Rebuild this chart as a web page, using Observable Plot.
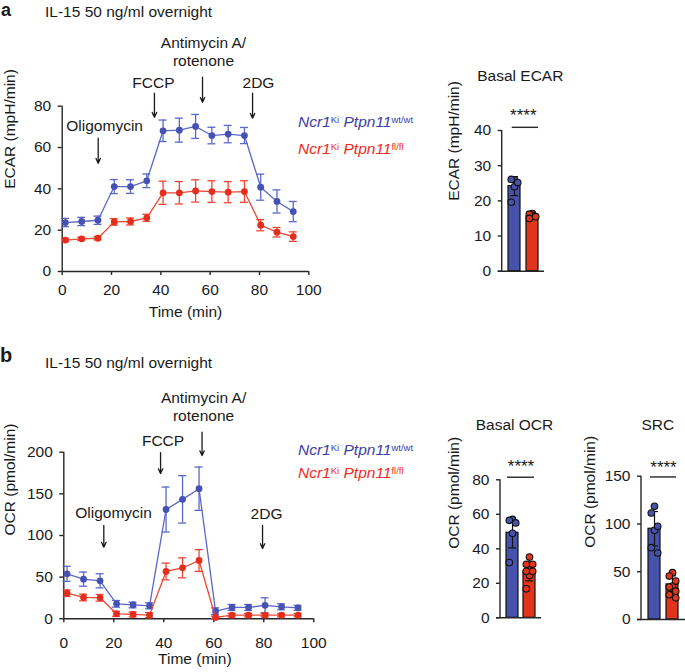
<!DOCTYPE html>
<html><head><meta charset="utf-8">
<script src="https://cdn.jsdelivr.net/npm/d3@7"></script>
<script src="https://cdn.jsdelivr.net/npm/@observablehq/plot@0.6"></script>
<style>
body{margin:0;background:#fff;}
#fig{position:relative;width:685px;height:672px;overflow:hidden;font-family:"Liberation Sans",Arial,Helvetica,sans-serif;color:#1a1a1a;}
#fig .t{position:absolute;line-height:1;white-space:nowrap;font-size:15.5px;}
#fig .sup{font-size:9.5px;position:relative;top:-4px;font-style:normal;}
</style></head><body><div id="fig"></div>
<script>
// ---------- data ----------
const times = [1.3, 7.9, 14.5, 21.1, 27.7, 34.3, 40.9, 47.5, 54.1, 60.7, 67.3, 73.9, 80.5, 87.1, 93.7];
const ecarWt    = [23.7, 24.2, 24.8, 41.1, 41.1, 43.9, 68.1, 68.4, 70.2, 65.8, 66.5, 65.8, 40.8, 33.9, 29.0];
const ecarWtErr = [2.0, 2.0, 2.0, 3.4, 3.3, 3.3, 5.2, 5.8, 5.8, 4.0, 4.2, 3.9, 6.3, 5.6, 4.9];
const ecarFl    = [15.2, 15.8, 16.1, 24.0, 24.2, 26.0, 38.1, 38.1, 39.0, 38.7, 38.4, 38.7, 22.4, 19.0, 16.9];
const ecarFlErr = [0.8, 0.8, 0.8, 1.6, 1.7, 1.7, 5.6, 5.4, 5.4, 5.2, 5.1, 5.2, 2.7, 2.3, 2.3];
const ocrWt     = [54.0, 47.6, 45.6, 18.0, 16.6, 15.6, 131.2, 143.4, 156.2, 9.2, 13.6, 13.6, 16.2, 14.4, 13.2];
const ocrWtErr  = [9, 8.5, 8.5, 4, 3.4, 3.6, 27, 28.5, 26, 4, 3.6, 3.6, 9, 3.6, 3];
const ocrFl     = [30.8, 25.6, 25.2, 6.0, 5.2, 4.4, 56.8, 61.2, 70.0, 1.6, 4.4, 4.4, 4.4, 4.4, 4.4];
const ocrFlErr  = [4, 4, 4, 3, 3, 3, 10, 12, 13, 1.5, 2, 2, 2, 2, 2];

const xTicks = [0, 20, 40, 60, 80, 100];
const ecarTicks = [0, 20, 40, 60, 80];
const ocrTicks = [0, 50, 100, 150, 200];

const injections = ["Oligomycin", "FCCP", "Antimycin A/\nrotenone", "2DG"];
const ecarLabelT = [17.2, 37.0, 57.3, 79.6];
const ecarLabelV = [70.8, 91.6, 106.7, 91.6];
const ecarArrowT = [14.6, 37.4, 56.9, 77.2];
const ecarArrowTop = [64.5, 86.3, 94.1, 86.3];
const ecarArrowTip = [52.4, 74.7, 81.9, 74.2];
const ocrLabelT = [19.9, 39.7, 55.9, 81.1];
const ocrLabelV = [128, 214, 255.4, 126.7];
const ocrArrowT = [16.0, 38.7, 55.3, 79.5];
const ocrArrowTop = [112, 199.6, 224, 112];
const ocrArrowTip = [86, 174.4, 196, 84.4];

const genotypes = ["wt/wt", "fl/fl"];
const basalEcarWt = [26.0, 26.1, 25.2, 24.0, 19.6];
const basalEcarFl = [16.4, 16.2, 15.5, 15.8, 15.0];
const basalEcarMean = [24.2, 15.5];
const basalEcarSd = [2.7, 0.6];
const basalEcarTicks = [0, 10, 20, 30, 40];

const basalOcrWt = [57, 56.5, 55, 49, 32];
const basalOcrFl = [35.2, 31, 31, 27.8, 27, 27, 24.5, 16.8];
const basalOcrMean = [49.3, 26.9];
const basalOcrSd = [8.8, 5.5];
const basalOcrTicks = [0, 20, 40, 60, 80];

const srcWt = [118.5, 111.5, 97.6, 93.4, 75.2, 69.6];
const srcFl = [49, 45.5, 40.2, 35, 33.9, 29.7, 26.2, 25.9, 22.7];
const srcMean = [95, 36.7];
const srcSd = [18, 9];
const srcTicks = [0, 50, 100, 150];

// ---------- style ----------
const FONT = '"Liberation Sans", Arial, Helvetica, sans-serif';
const FS = 15.5;
const INK = "#1a1a1a";
const AX = "#262626";
const lineBlue = "#5a68c9", ptBlue = "#4651b4";
const lineRed = "#ef4634", ptRed = "#e42d1c";
const barBlue = "#4753ab", barRed = "#e2341a";

const fig = document.getElementById("fig");

function place(svg, left, top) {
  svg.style.position = "absolute";
  svg.style.left = left + "px";
  svg.style.top = top + "px";
  svg.style.overflow = "visible";
  svg.style.background = "transparent";
  svg.style.maxWidth = "none";
  fig.appendChild(svg);
}
function addText(html, left, top, extra = "") {
  const d = document.createElement("div");
  d.className = "t";
  d.style.left = left + "px";
  d.style.top = top + "px";
  d.style.cssText += extra;
  d.innerHTML = html;
  fig.appendChild(d);
}

function series(vals, errs, g) {
  return times.map((t, i) => ({t, v: vals[i], e: errs[i], g}));
}

function lineChart(o) {
  const wt = series(o.wt, o.wtErr, "wt");
  const fl = series(o.fl, o.flErr, "fl");
  const ann = injections.map((label, i) => ({label, t: o.labelT[i], v: o.labelV[i]}));
  const arr = injections.map((label, i) => ({t: o.arrowT[i], top: o.arrowTop[i], tip: o.arrowTip[i]}));
  const errMarks = (data, color) => [
    Plot.ruleX(data, {x: "t", y1: d => d.v - d.e, y2: d => d.v + d.e, stroke: color, strokeWidth: 1.3}),
    Plot.ruleY(data, {x1: "t", x2: "t", y: d => d.v + d.e, stroke: color, strokeWidth: 1.3, insetLeft: -4, insetRight: -4}),
    Plot.ruleY(data, {x1: "t", x2: "t", y: d => d.v - d.e, stroke: color, strokeWidth: 1.3, insetLeft: -4, insetRight: -4})
  ];
  const svg = Plot.plot({
    width: o.width, height: o.height,
    marginLeft: o.ml, marginRight: o.mr, marginTop: o.mt, marginBottom: o.mb,
    style: {fontFamily: FONT, fontSize: FS + "px", color: AX, background: "transparent"},
    x: {domain: [0, 100]},
    y: {domain: [0, o.yMax]},
    marks: [
      Plot.ruleX([0], {y1: 0, y2: o.yMax, stroke: AX, strokeWidth: 1.4}),
      Plot.ruleY([0], {x1: 0, x2: 100, stroke: AX, strokeWidth: 1.4}),
      Plot.axisY({ticks: o.yTicks, tickSize: 4, tickPadding: 7, strokeWidth: 1.4, fontSize: FS, label: null, fill: INK}),
      Plot.axisX({ticks: xTicks, tickSize: 4, tickPadding: o.xPad, strokeWidth: 1.4, fontSize: FS, label: null, fill: INK}),
      Plot.text([o.yLabel], {frameAnchor: "left", dx: o.yLabelDx, rotate: -90, fontSize: FS, fill: INK}),
      Plot.text(["Time (min)"], {frameAnchor: "bottom", dx: o.xLabelDx, dy: o.xLabelDy, fontSize: FS, fill: INK}),
      Plot.line(wt, {x: "t", y: "v", stroke: lineBlue, strokeWidth: 1.3}),
      ...errMarks(wt, lineBlue),
      Plot.dot(wt, {x: "t", y: "v", r: 3.4, fill: ptBlue}),
      Plot.line(fl, {x: "t", y: "v", stroke: lineRed, strokeWidth: 1.3}),
      ...errMarks(fl, lineRed),
      Plot.dot(fl, {x: "t", y: "v", r: 3.4, fill: ptRed}),
      Plot.text(ann, {x: "t", y: "v", text: "label", fontSize: FS, lineHeight: 1.2, fill: INK}),
      Plot.arrow(arr, {x1: "t", x2: "t", y1: "top", y2: "tip", stroke: INK, strokeWidth: 1.3, headLength: 6, headAngle: 50})
    ]
  });
  place(svg, o.left, o.top);
}

function spine(yTop) {
  return (index, scales, values, dims) => {
    const l = document.createElementNS("http://www.w3.org/2000/svg", "line");
    l.setAttribute("x1", dims.marginLeft);
    l.setAttribute("x2", dims.marginLeft);
    l.setAttribute("y1", scales.y(0));
    l.setAttribute("y2", scales.y(yTop));
    l.setAttribute("stroke", AX);
    l.setAttribute("stroke-width", 1.4);
    return l;
  };
}

function barChart(o) {
  const bars = genotypes.map((g, i) => ({g, m: o.mean[i], s: o.sd[i]}));
  const pts = [];
  genotypes.forEach((g, gi) => o.points[gi].forEach((v, i) => pts.push({g, v, slot: i % 3})));
  const slotDx = [0, -3.2, 3.2];
  const svg = Plot.plot({
    width: o.width, height: o.height,
    marginLeft: o.ml, marginRight: o.mr, marginTop: o.mt, marginBottom: o.mb,
    style: {fontFamily: FONT, fontSize: FS + "px", color: AX, background: "transparent"},
    x: {domain: genotypes, paddingInner: 0.32, paddingOuter: 0.33, axis: null},
    y: {domain: [0, o.yMax]},
    color: {domain: genotypes, range: [barBlue, barRed]},
    marks: [
      Plot.barY(bars, {x: "g", y: "m", fill: "g", stroke: "#111", strokeWidth: 1.2}),
      Plot.ruleX(bars, {x: "g", y1: d => d.m - d.s, y2: d => d.m + d.s, stroke: "#111", strokeWidth: 1.2}),
      Plot.tickY(bars, {x: "g", y: d => d.m + d.s, stroke: "#111", strokeWidth: 1.2, insetLeft: 2, insetRight: 2}),
      Plot.tickY(bars, {x: "g", y: d => d.m - d.s, stroke: "#111", strokeWidth: 1.2, insetLeft: 2, insetRight: 2}),
      ...slotDx.map((dx, s) => Plot.dot(pts, {filter: d => d.slot === s, x: "g", y: "v", dx, r: 3.3, fill: "g", stroke: "#111", strokeWidth: 1.1})),
      Plot.ruleY([0], {stroke: AX, strokeWidth: 1.4, insetLeft: -4}),
      spine(o.yMax),
      Plot.axisY({ticks: o.ticks, tickSize: 4, tickPadding: 7, strokeWidth: 1.4, fontSize: FS, label: null, fill: INK}),
      Plot.text([o.yLabel], {frameAnchor: "left", dx: o.yLabelDx, rotate: -90, fontSize: FS, fill: INK}),
      Plot.ruleY([o.sigLine], {stroke: AX, strokeWidth: 1.4, insetLeft: o.sigInsetL, insetRight: o.sigInsetR}),
      Plot.text([o.starsV], {y: d => d, text: () => "****", frameAnchor: "middle", lineAnchor: "bottom", fontSize: 17, fill: INK})
    ]
  });
  place(svg, o.left, o.top);
}

// ---------- panel a ----------
lineChart({
  left: 0, top: 0, width: 330, height: 330, ml: 61.7, mr: 21.7, mt: 105.7, mb: 59,
  wt: ecarWt, wtErr: ecarWtErr, fl: ecarFl, flErr: ecarFlErr,
  yMax: 80, yTicks: ecarTicks, yLabel: "ECAR (mpH/min)", yLabelDx: -51.7,
  xPad: 8, xLabelDx: 0, xLabelDy: 45.7,
  labelT: ecarLabelT, labelV: ecarLabelV, arrowT: ecarArrowT, arrowTop: ecarArrowTop, arrowTip: ecarArrowTip
});
barChart({
  left: 440, top: 60, width: 110, height: 240, ml: 61.7, mr: 6, mt: 70, mb: 29.3,
  mean: basalEcarMean, sd: basalEcarSd, points: [basalEcarWt, basalEcarFl],
  yMax: 40, ticks: basalEcarTicks, yLabel: "ECAR (mpH/min)", yLabelDx: -47.7,
  sigLine: 40.9, starsV: 42.6, sigInsetL: 10, sigInsetR: 6
});

// ---------- panel b ----------
lineChart({
  left: 0, top: 330, width: 330, height: 342, ml: 63.3, mr: 16.7, mt: 121.7, mb: 53.7,
  wt: ocrWt, wtErr: ocrWtErr, fl: ocrFl, flErr: ocrFlErr,
  yMax: 200, yTicks: ocrTicks, yLabel: "OCR (pmol/min)", yLabelDx: -53.3,
  xPad: 14, xLabelDx: 6, xLabelDy: 44.7,
  labelT: ocrLabelT, labelV: ocrLabelV, arrowT: ocrArrowT, arrowTop: ocrArrowTop, arrowTip: ocrArrowTip
});
barChart({
  left: 440, top: 430, width: 110, height: 220, ml: 60, mr: 9, mt: 49.3, mb: 32.7,
  mean: basalOcrMean, sd: basalOcrSd, points: [basalOcrWt, basalOcrFl],
  yMax: 80, ticks: basalOcrTicks, yLabel: "OCR (pmol/min)", yLabelDx: -46.7,
  sigLine: 81.5, starsV: 84.3, sigInsetL: 7, sigInsetR: 7
});
barChart({
  left: 580, top: 430, width: 105, height: 220, ml: 61, mr: 0, mt: 45.7, mb: 31,
  mean: srcMean, sd: srcSd, points: [srcWt, srcFl],
  yMax: 150, ticks: srcTicks, yLabel: "OCR (pmol/min)", yLabelDx: -51.5,
  sigLine: 149.2, starsV: 153.2, sigInsetL: 9, sigInsetR: 9
});

// ---------- text ----------
addText("a", 1, 1.2, "font-weight:bold;font-size:18px;");
addText("b", 0, 344.5, "font-weight:bold;font-size:20px;");
addText("IL-15 50 ng/ml overnight", 45, 3.6);
addText("IL-15 50 ng/ml overnight", 45, 355.2);
const legWt = '<i>Ncr1</i><span class="sup">Ki</span> <i>Ptpn11</i><span class="sup">wt/wt</span>';
const legFl = '<i>Ncr1</i><span class="sup">Ki</span> <i>Ptpn11</i><span class="sup">fl/fl</span>';
addText(legWt, 298, 114.2, "color:#3c40a6;");
addText(legFl, 298, 140.9, "color:#ee2b1e;");
addText(legWt, 298, 442.2, "color:#3c40a6;");
addText(legFl, 298, 464.6, "color:#ee2b1e;");
addText("Basal ECAR", 460.3, 67.6, "width:120px;text-align:center;");
addText("Basal OCR", 454.5, 416.9, "width:120px;text-align:center;");
addText("SRC", 617.8, 416.9, "width:80px;text-align:center;");
</script></body></html>
